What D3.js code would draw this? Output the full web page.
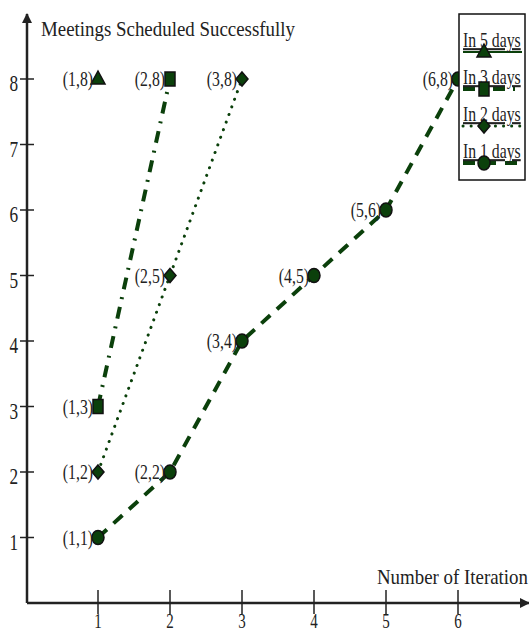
<!DOCTYPE html>
<html>
<head>
<meta charset="utf-8">
<script src="https://cdn.jsdelivr.net/npm/d3@7"></script>
<style>
  body { margin: 0; background: #fff; }
  text { font-family: "Liberation Serif", "Times New Roman", serif; fill: #222; }
</style>
</head>
<body>
<svg id="chart"></svg>
<script>
// series data: [iteration, meetings]
var in1Days = [[1,1],[2,2],[3,4],[4,5],[5,6],[6,8]];
var in2Days = [[1,2],[2,5],[3,8]];
var in3Days = [[1,3],[2,8]];
var in5Days = [[1,8]];
var xTicks = [1,2,3,4,5,6];
var yTicks = [1,2,3,4,5,6,7,8];

var series = [
    { name: "In 5 days", data: in5Days, dash: null, symbol: "triangle" },
    { name: "In 3 days", data: in3Days, dash: "12,8,2,8", symbol: "square" },
    { name: "In 2 days", data: in2Days, dash: "0.1,8", symbol: "diamond" },
    { name: "In 1 days", data: in1Days, dash: "12,9", symbol: "circle" }
];

var dimensions = { width: 529, height: 633 };
var green = "#0b400b";
var squeeze = 0.75;   // the source font is a narrow Times

var svg = d3.select("#chart")
            .attr("width", dimensions.width)
            .attr("height", dimensions.height);

var xScale = d3.scaleLinear().domain([0, 6]).range([26, 458]);
var yScale = d3.scaleLinear().domain([0, 8]).range([603, 79]);

// condensed text helper
function label(parent, x, y, str, size, anchor, sx) {
    return parent.append("text")
                 .attr("transform", `translate(${x},${y}) scale(${sx || squeeze},1)`)
                 .attr("text-anchor", anchor || "start")
                 .style("font-size", size + "px")
                 .text(str);
}

// arrowheads
var defs = svg.append("defs");
defs.append("marker")
    .attr("id", "arrow")
    .attr("viewBox", "0 0 10 10")
    .attr("refX", 9).attr("refY", 5)
    .attr("markerWidth", 4).attr("markerHeight", 4)
    .attr("orient", "auto")
    .append("path")
    .attr("d", "M0,0L10,5L0,10z")
    .attr("fill", "#222");

// axis lines
svg.append("line")
   .attr("x1", 27).attr("y1", 603).attr("x2", 27).attr("y2", 14)
   .attr("stroke", "#222").attr("stroke-width", 2.5)
   .attr("marker-end", "url(#arrow)");
svg.append("line")
   .attr("x1", 27).attr("y1", 603).attr("x2", 529).attr("y2", 603)
   .attr("stroke", "#222").attr("stroke-width", 2.5)
   .attr("marker-end", "url(#arrow)");

// x ticks
var xAxis = svg.append("g");
xAxis.selectAll("line").data(xTicks).enter().append("line")
     .attr("x1", d => xScale(d)).attr("x2", d => xScale(d))
     .attr("y1", 590).attr("y2", 614)
     .attr("stroke", "#222").attr("stroke-width", 1.5);
xTicks.forEach(d => label(xAxis, xScale(d), 628, d, 20, "middle"));

// y ticks
var yAxis = svg.append("g");
yAxis.selectAll("line").data(yTicks).enter().append("line")
     .attr("x1", 20).attr("x2", 34)
     .attr("y1", d => yScale(d)).attr("y2", d => yScale(d))
     .attr("stroke", "#222").attr("stroke-width", 1.5);
yTicks.forEach(d => label(yAxis, 18, yScale(d) + 12, d, 23, "end"));

// axis titles
label(svg, 41, 36, "Meetings Scheduled Successfully", 21, "start", 0.9);
label(svg, 528, 584, "Number of Iteration", 21, "end", 0.9);

var line = d3.line()
             .x(d => xScale(d[0]))
             .y(d => yScale(d[1]));

function symbolPath(name) {
    if (name === "triangle") return "M0,-8L7,5L-7,5Z";
    if (name === "square") return "M-5,-7H5V7H-5Z";
    if (name === "diamond") return "M0,-7L6,0L0,7L-6,0Z";
    return "M0,-7A6,7 0 1,1 0,7A6,7 0 1,1 0,-7Z";
}

// lines
series.forEach(function(s) {
    if (s.data.length > 1) {
        svg.append("path")
           .datum(s.data)
           .attr("d", line)
           .attr("fill", "none")
           .attr("stroke", green)
           .attr("stroke-width", s.symbol === "diamond" ? 3 : 4)
           .attr("stroke-linecap", s.symbol === "diamond" ? "round" : "butt")
           .attr("stroke-dasharray", s.dash);
    }
});

// markers and labels
series.forEach(function(s) {
    var g = svg.append("g");
    g.selectAll("path").data(s.data).enter().append("path")
     .attr("transform", d => `translate(${xScale(d[0])},${yScale(d[1])})`)
     .attr("d", symbolPath(s.symbol))
     .attr("fill", green)
     .attr("stroke", "#111")
     .attr("stroke-width", 1.5);
    s.data.forEach(d => label(g, xScale(d[0]) - 5, yScale(d[1]) + 7,
                              "(" + d[0] + "," + d[1] + ")", 21, "end"));
});

// legend
var legend = svg.append("g");
legend.append("rect")
      .attr("x", 459).attr("y", 14)
      .attr("width", 66).attr("height", 166)
      .attr("fill", "#fff")
      .attr("stroke", "#111").attr("stroke-width", 1.5);

var items = legend.selectAll("g.item")
                  .data(series)
                  .enter().append("g")
                  .attr("transform", (d, i) => `translate(0,${52 + i * 37})`);
items.append("line")
     .attr("x1", 463).attr("x2", 522)
     .attr("y1", 0).attr("y2", 0)
     .attr("stroke", green)
     .attr("stroke-width", d => d.symbol === "triangle" ? 2 : (d.symbol === "diamond" ? 3 : 4))
     .attr("stroke-linecap", d => d.symbol === "diamond" ? "round" : "butt")
     .attr("stroke-dasharray", d => d.dash);
items.each(function(d) {
    label(d3.select(this), 463, -5, d.name, 21, "start")
        .attr("text-decoration", "underline");
});
items.append("path")
     .attr("transform", "translate(484,0)")
     .attr("d", d => symbolPath(d.symbol))
     .attr("fill", green)
     .attr("stroke", "#111")
     .attr("stroke-width", 1.5);
</script>
</body>
</html>
